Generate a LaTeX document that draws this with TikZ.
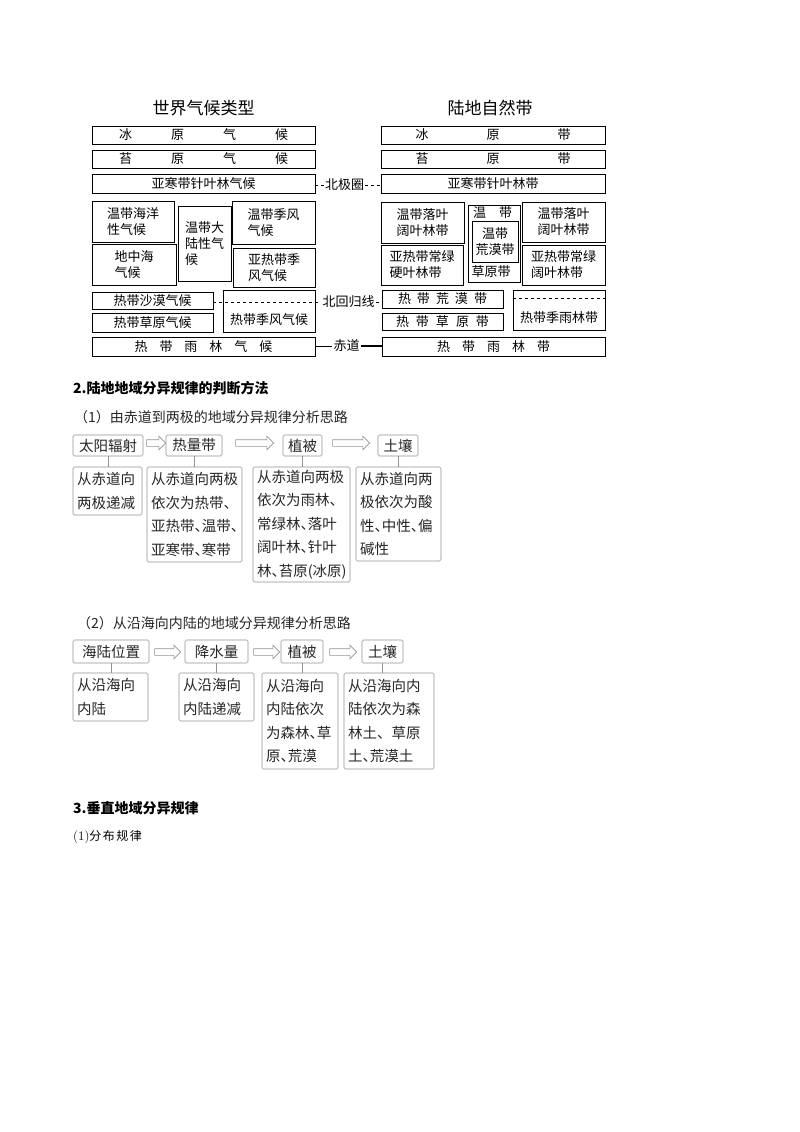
\documentclass[tikz,border=0pt]{standalone}
\usepackage{fontspec}
\newfontfamily\cjk{Noto Sans CJK SC}
\usetikzlibrary{shapes.arrows}
\newcommand{\dn}{\makebox[.5em][l]{、}}

\begin{document}
\begin{tikzpicture}[x=1pt, y=-1pt,
	zone/.style={draw, line width=0.8pt, inner sep=0pt, align=center, font=\cjk\fontsize{13}{16}\selectfont},
	zonel/.style={zone, align=left},
	lat/.style={font=\cjk\fontsize{13}{16}\selectfont, inner sep=1pt},
	title/.style={font=\cjk\fontsize{17}{20}\selectfont, inner sep=0pt},
	head/.style={font=\cjk\bfseries\fontsize{14}{16}\selectfont, anchor=west, inner sep=0pt},
	sub/.style={font=\cjk\fontsize{14}{16}\selectfont, anchor=west, inner sep=0pt, text=black!85},
	stepbox/.style={draw=gray!85, line width=0.6pt, rounded corners=1.5pt, inner sep=0pt, minimum height=21pt, font=\cjk\fontsize{14.5}{18}\selectfont, text=black!85},
	descbox/.style={stepbox, align=left, inner xsep=4pt, font=\cjk\fontsize{14.5}{23.5}\selectfont},
	hollow/.style={single arrow, draw=gray!85, fill=white, line width=0.6pt, inner xsep=0pt, inner ysep=3pt, single arrow head extend=3.5pt},
	link/.style={gray!85, line width=0.6pt},
	lim/.style={dashed, line width=0.6pt}]
	\fill[white] (0,0) rectangle (800,1132);
	\useasboundingbox (0,0) rectangle (800,1132);

	% climate types
	\node[title] (titleL) at (203.5,108) {世界气候类型};
	\node[zone, minimum width=223pt, minimum height=18pt] (iceL) at (203.5,135) {冰\hspace{39pt}原\hspace{39pt}气\hspace{39pt}候};
	\node[zone, minimum width=223pt, minimum height=18pt] (tundraL) at (203.5,159) {苔\hspace{39pt}原\hspace{39pt}气\hspace{39pt}候};
	\node[zone, minimum width=223pt, minimum height=19pt] (taigaL) at (203.5,183.5) {亚寒带针叶林气候};
	\node[zonel, minimum width=82pt, minimum height=41pt] (oceanL) at (133,221.5) {温带海洋\\性气候};
	\node[zonel, minimum width=84pt, minimum height=41pt] (medL) at (134,264.5) {地中海\\气候};
	\node[zonel, minimum width=53pt, minimum height=75pt] (contL) at (204.5,243.5) {温带大\\陆性气\\候};
	\node[zonel, minimum width=83pt, minimum height=43pt] (monL) at (273.5,222.5) {温带季风\\气候};
	\node[zonel, minimum width=82pt, minimum height=39pt] (submonL) at (274,267.5) {亚热带季\\风气候};
	\node[zone, minimum width=121pt, minimum height=17pt] (tdesL) at (152.5,300.5) {热带沙漠气候};
	\node[zone, minimum width=121pt, minimum height=19pt] (tsavL) at (152.5,322.5) {热带草原气候};
	\node[zone, minimum width=92pt, minimum height=42pt] (tmonL) at (269,311) {};
	\node[lat] (tmonLt) at (269,320) {热带季风气候};
	\node[zone, minimum width=223pt, minimum height=19pt] (trainL) at (203.5,346.5) {热\hspace{12pt}带\hspace{12pt}雨\hspace{12pt}林\hspace{12pt}气\hspace{12pt}候};

	% natural zones
	\node[title] (titleR) at (490,108) {陆地自然带};
	\node[zone, minimum width=224pt, minimum height=18pt] (iceR) at (493,135) {冰\hspace{58pt}原\hspace{58pt}带};
	\node[zone, minimum width=224pt, minimum height=18pt] (tundraR) at (493,159) {苔\hspace{58pt}原\hspace{58pt}带};
	\node[zone, minimum width=224pt, minimum height=19pt] (taigaR) at (493,183.5) {亚寒带针叶林带};
	\node[zonel, minimum width=83pt, minimum height=41pt] (broadR) at (422.5,222.5) {温带落叶\\阔叶林带};
	\node[zonel, minimum width=82pt, minimum height=40pt] (sclerR) at (422,265) {亚热带常绿\\硬叶林带};
	\node[zone, minimum width=52pt, minimum height=77pt] (grassR) at (494,243.5) {};
	\node[lat] (grassRt) at (492.5,213) {温\hspace{13pt}带};
	\node[zone, minimum width=46pt, minimum height=41pt] (desR) at (495,241.5) {温带\\荒漠带};
	\node[lat] (grassRb) at (491,272) {草原带};
	\node[zonel, minimum width=83pt, minimum height=40pt] (broadR2) at (563.5,222) {温带落叶\\阔叶林带};
	\node[zonel, minimum width=83pt, minimum height=40pt] (everR) at (563.5,265) {亚热带常绿\\阔叶林带};
	\node[zone, minimum width=121pt, minimum height=18pt] (tdesR) at (442.5,299) {热\hspace{6pt}带\hspace{6pt}荒\hspace{6pt}漠\hspace{6pt}带};
	\node[zone, minimum width=121pt, minimum height=17pt] (tsavR) at (442.5,321.5) {热\hspace{7pt}带\hspace{7pt}草\hspace{7pt}原\hspace{7pt}带};
	\node[zone, minimum width=92pt, minimum height=40pt] (tseasR) at (559,310) {};
	\node[lat] (tseasRt) at (559,318) {热带季雨林带};
	\node[zone, minimum width=223pt, minimum height=19pt] (trainR) at (493.5,346.5) {热\hspace{12pt}带\hspace{12pt}雨\hspace{12pt}林\hspace{12pt}带};

	% latitude lines
	\node[lat] (arctic) at (344.5,185) {北极圈};
	\draw[lim] (taigaL.east |- arctic) -- (arctic.west);
	\draw[lim] (arctic.east) -- (arctic.east -| taigaR.west);
	\node[lat] (tropic) at (348.5,302) {北回归线};
	\draw[lim] (tdesL.east |- tropic) -- (tropic.west);
	\draw[lim] (tropic.east) -- (tropic.east -| tdesR.west);
	\draw[lim] ([yshift=-9pt]tseasR.north west) -- ([yshift=-9pt]tseasR.north east);
	\node[lat] (equator) at (346.5,346) {赤道};
	\draw[line width=0.6pt] (trainL.east |- equator) -- (equator.west);
	\draw[line width=1.2pt] (equator.east) -- (equator.east -| trainR.west);

	% section 2
	\node[head] (sec2) at (73,388) {2.陆地地域分异规律的判断方法};
	\node[sub] (sub1) at (74,417) {（1）由赤道到两极的地域分异规律分析思路};
	\node[stepbox, minimum width=70pt] (sun) at (108,445.5) {太阳辐射};
	\node[stepbox, minimum width=56pt] (heat) at (194,445.5) {热量带};
	\node[stepbox, minimum width=39pt] (veg) at (302.5,445.5) {植被};
	\node[stepbox, minimum width=40pt] (soil) at (398,445.5) {土壤};
	\node[descbox, text width=61pt, minimum height=48pt] (d1) at (107.5,491) {从赤道向\\两极递减};
	\node[descbox, text width=87pt, minimum height=95pt] (d2) at (194.5,514.5) {从赤道向两极\\依次为热带、\\亚热带\dn 温带\dn\\亚寒带\dn 寒带};
	\node[descbox, text width=89pt, minimum height=115pt] (d3) at (301.5,524.5) {从赤道向两极\\依次为雨林、\\常绿林\dn 落叶\\阔叶林\dn 针叶\\林\dn 苔原(冰原)};
	\node[descbox, text width=77pt, minimum height=94pt] (d4) at (398.5,514) {从赤道向两\\极依次为酸\\性\dn 中性\dn 偏\\碱性};
	\foreach \n/\x/\l in {a1/154.5/19, a2/253/38, a3/349.5/37}
		\node[hollow, minimum height=\l pt] (\n) at (\x,443) {};

	\node[sub] (sub2) at (77,623) {（2）从沿海向内陆的地域分异规律分析思路};
	\node[stepbox, minimum width=76pt, minimum height=23pt] (sea) at (111,651.5) {海陆位置};
	\node[stepbox, minimum width=63pt, minimum height=23pt] (rain) at (216.5,651.5) {降水量};
	\node[stepbox, minimum width=42pt, minimum height=23pt] (veg2) at (302,651.5) {植被};
	\node[stepbox, minimum width=41pt, minimum height=23pt] (soil2) at (382.5,651.5) {土壤};
	\node[descbox, text width=67pt, minimum height=48pt] (e1) at (110.5,697) {从沿海向\\内陆};
	\node[descbox, text width=67pt, minimum height=48pt] (e2) at (216.5,697) {从沿海向\\内陆递减};
	\node[descbox, text width=68pt, minimum height=96pt] (e3) at (300,721) {从沿海向\\内陆依次\\为森林\dn 草\\原\dn 荒漠};
	\node[descbox, text width=82pt, minimum height=96pt] (e4) at (389,721) {从沿海向内\\陆依次为森\\林土、草原\\土\dn 荒漠土};
	\foreach \n/\x/\l in {b1/166/26, b2/265/26, b3/341.5/27}
		\node[hollow, minimum height=\l pt] (\n) at (\x,652) {};

	\foreach \s/\d in {sun/d1, heat/d2, veg/d3, soil/d4, sea/e1, rain/e2, veg2/e3, soil2/e4}
		\draw[link] (\s.south) -- (\s.south |- \d.north);

	% section 3
	\node[head] (sec3) at (73,808) {3.垂直地域分异规律};
	\node[anchor=west, inner sep=0pt, font=\fontsize{13}{15}\selectfont] (sub3) at (73,837) {(1){\cjk\fontsize{12}{14}\selectfont 分\hspace{1.5pt}布\hspace{1.5pt}规\hspace{1.5pt}律}};
\end{tikzpicture}
\end{document}
